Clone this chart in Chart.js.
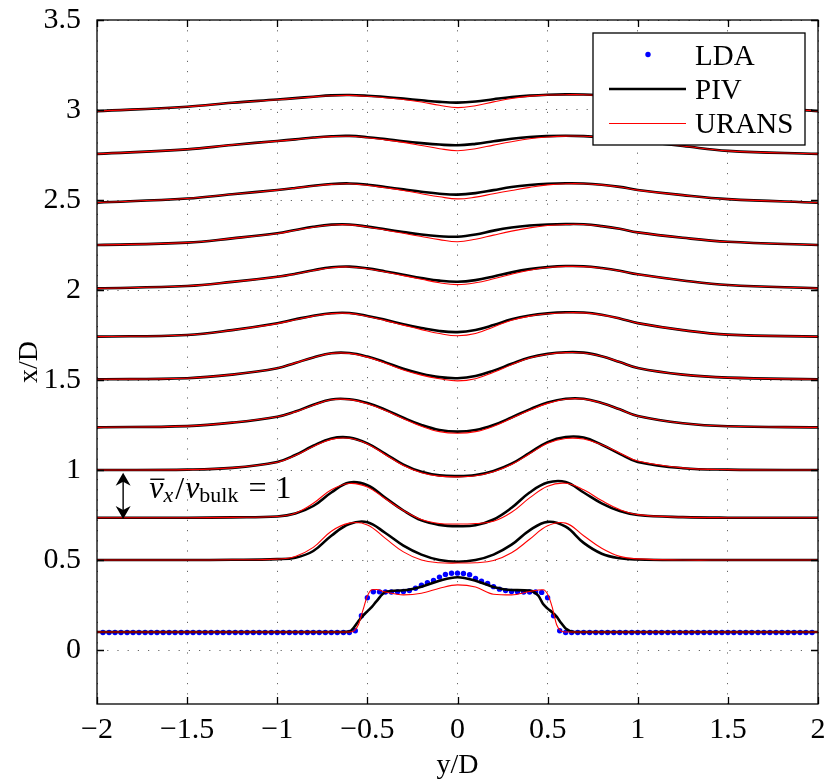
<!DOCTYPE html>
<html>
<head>
<meta charset="utf-8">
<script src="https://cdn.jsdelivr.net/npm/chart.js@4.4.1/dist/chart.umd.min.js"></script>
<style>
html, body { margin: 0; padding: 0; background: #fff; }
canvas { display: block; }
</style>
</head>
<body>
<canvas id="profiles" width="828" height="783"></canvas>
<script>
// axis ticks
const xTicks = [-2, -1.5, -1, -0.5, 0, 0.5, 1, 1.5, 2];
const yTicks = [0, 0.5, 1, 1.5, 2, 2.5, 3, 3.5];

// y/D positions shared by the profiles from x/D = 0.5 upward
const yGrid = [-2, -1.5, -1.25, -1, -0.9, -0.8, -0.7, -0.6, -0.5, -0.4, -0.3, -0.2, -0.1, 0,
               0.1, 0.2, 0.3, 0.4, 0.5, 0.6, 0.7, 0.8, 0.9, 1, 1.25, 1.5, 2];

// PIV profiles (plotted as x/D station + scaled velocity)
const piv050 = [0.5, 0.5, 0.501, 0.505, 0.513, 0.55, 0.635, 0.70, 0.71, 0.65, 0.58, 0.53, 0.50, 0.49, 0.50, 0.53, 0.585, 0.665, 0.712, 0.685, 0.595, 0.535, 0.51, 0.503, 0.5, 0.5, 0.5];
const piv075 = [0.735, 0.735, 0.737, 0.742, 0.758, 0.80, 0.875, 0.93, 0.915, 0.845, 0.775, 0.72, 0.695, 0.688, 0.693, 0.725, 0.79, 0.875, 0.93, 0.933, 0.875, 0.815, 0.772, 0.75, 0.738, 0.735, 0.735];
const piv100 = [1.0, 1.002, 1.012, 1.045, 1.083, 1.135, 1.175, 1.18, 1.148, 1.09, 1.03, 0.99, 0.97, 0.966, 0.972, 0.995, 1.035, 1.095, 1.155, 1.183, 1.18, 1.14, 1.09, 1.045, 1.01, 1.002, 1.0];
const piv125 = [1.237, 1.244, 1.263, 1.296, 1.325, 1.362, 1.392, 1.393, 1.372, 1.335, 1.29, 1.25, 1.222, 1.213, 1.222, 1.25, 1.292, 1.337, 1.375, 1.396, 1.396, 1.372, 1.337, 1.3, 1.26, 1.243, 1.237];
const piv150 = [1.504, 1.51, 1.53, 1.565, 1.595, 1.625, 1.649, 1.65, 1.63, 1.598, 1.563, 1.535, 1.516, 1.51, 1.522, 1.552, 1.59, 1.625, 1.645, 1.654, 1.652, 1.632, 1.6, 1.567, 1.53, 1.513, 1.504];
const piv175 = [1.741, 1.75, 1.777, 1.815, 1.837, 1.857, 1.871, 1.872, 1.856, 1.834, 1.81, 1.789, 1.772, 1.766, 1.778, 1.805, 1.837, 1.858, 1.87, 1.876, 1.875, 1.863, 1.842, 1.816, 1.777, 1.752, 1.741];
const piv200 = [2.009, 2.022, 2.045, 2.074, 2.09, 2.11, 2.126, 2.13, 2.12, 2.103, 2.085, 2.067, 2.052, 2.046, 2.055, 2.075, 2.098, 2.116, 2.127, 2.133, 2.132, 2.122, 2.107, 2.087, 2.053, 2.028, 2.009];
const piv225 = [2.25, 2.263, 2.287, 2.315, 2.333, 2.351, 2.363, 2.364, 2.352, 2.337, 2.322, 2.308, 2.299, 2.296, 2.308, 2.33, 2.347, 2.358, 2.364, 2.366, 2.365, 2.355, 2.34, 2.32, 2.29, 2.268, 2.25];
const piv250 = [2.485, 2.508, 2.532, 2.556, 2.567, 2.579, 2.589, 2.592, 2.585, 2.572, 2.559, 2.546, 2.535, 2.53, 2.538, 2.555, 2.572, 2.583, 2.59, 2.593, 2.592, 2.585, 2.573, 2.556, 2.527, 2.505, 2.485];
const piv275 = [2.756, 2.781, 2.806, 2.828, 2.837, 2.847, 2.854, 2.856, 2.849, 2.838, 2.826, 2.816, 2.808, 2.804, 2.812, 2.826, 2.84, 2.85, 2.855, 2.857, 2.855, 2.849, 2.84, 2.828, 2.8, 2.773, 2.756];
const piv300 = [2.994, 3.018, 3.04, 3.058, 3.066, 3.074, 3.081, 3.083, 3.079, 3.072, 3.063, 3.054, 3.045, 3.041, 3.047, 3.06, 3.072, 3.08, 3.085, 3.087, 3.086, 3.081, 3.074, 3.066, 3.045, 3.024, 2.994];

// URANS profiles
const urans050 = [0.5, 0.5, 0.501, 0.505, 0.52, 0.57, 0.66, 0.705, 0.695, 0.62, 0.545, 0.50, 0.485, 0.483, 0.485, 0.497, 0.54, 0.615, 0.69, 0.705, 0.635, 0.565, 0.52, 0.506, 0.5, 0.5, 0.5];
const urans075 = [0.735, 0.735, 0.737, 0.742, 0.76, 0.815, 0.89, 0.925, 0.905, 0.84, 0.775, 0.725, 0.703, 0.70, 0.703, 0.715, 0.765, 0.845, 0.91, 0.926, 0.89, 0.83, 0.78, 0.752, 0.738, 0.735, 0.735];
const urans100 = [1.0, 1.002, 1.012, 1.043, 1.08, 1.13, 1.17, 1.176, 1.145, 1.085, 1.025, 0.985, 0.966, 0.962, 0.968, 0.99, 1.03, 1.09, 1.148, 1.175, 1.172, 1.14, 1.095, 1.05, 1.012, 1.002, 1.0];
const urans125 = [1.237, 1.244, 1.263, 1.296, 1.323, 1.36, 1.39, 1.391, 1.368, 1.33, 1.285, 1.243, 1.213, 1.204, 1.213, 1.243, 1.287, 1.332, 1.37, 1.393, 1.394, 1.372, 1.337, 1.3, 1.26, 1.243, 1.237];
const urans150 = [1.504, 1.51, 1.53, 1.565, 1.595, 1.625, 1.648, 1.648, 1.627, 1.593, 1.556, 1.527, 1.507, 1.495, 1.507, 1.543, 1.585, 1.622, 1.643, 1.652, 1.65, 1.632, 1.6, 1.567, 1.53, 1.513, 1.504];
const urans175 = [1.741, 1.75, 1.777, 1.813, 1.835, 1.855, 1.869, 1.87, 1.853, 1.83, 1.805, 1.78, 1.758, 1.746, 1.758, 1.795, 1.832, 1.855, 1.868, 1.874, 1.873, 1.862, 1.842, 1.816, 1.777, 1.752, 1.741];
const urans200 = [2.009, 2.022, 2.045, 2.073, 2.089, 2.108, 2.124, 2.128, 2.118, 2.1, 2.08, 2.06, 2.04, 2.03, 2.04, 2.062, 2.088, 2.11, 2.125, 2.131, 2.13, 2.121, 2.106, 2.087, 2.053, 2.028, 2.009];
const urans225 = [2.25, 2.263, 2.287, 2.314, 2.332, 2.349, 2.361, 2.362, 2.35, 2.333, 2.315, 2.297, 2.28, 2.268, 2.282, 2.305, 2.327, 2.345, 2.358, 2.364, 2.364, 2.354, 2.34, 2.32, 2.29, 2.268, 2.25];
const urans250 = [2.485, 2.508, 2.532, 2.555, 2.566, 2.578, 2.587, 2.59, 2.582, 2.568, 2.553, 2.535, 2.518, 2.506, 2.516, 2.535, 2.553, 2.57, 2.584, 2.59, 2.59, 2.584, 2.572, 2.555, 2.527, 2.505, 2.485];
const urans275 = [2.756, 2.781, 2.806, 2.827, 2.836, 2.846, 2.852, 2.854, 2.846, 2.834, 2.82, 2.803, 2.785, 2.774, 2.785, 2.805, 2.824, 2.84, 2.85, 2.855, 2.854, 2.848, 2.84, 2.828, 2.8, 2.773, 2.756];
const urans300 = [2.994, 3.018, 3.04, 3.057, 3.065, 3.073, 3.079, 3.081, 3.076, 3.068, 3.058, 3.044, 3.026, 3.013, 3.024, 3.045, 3.064, 3.077, 3.083, 3.085, 3.085, 3.08, 3.073, 3.065, 3.045, 3.024, 2.994];

// station x/D = 0.1 (nozzle exit) has its own finer grid
const yExit = [-2, -0.65, -0.6, -0.575, -0.55, -0.525, -0.5, -0.475, -0.45, -0.4, -0.3, -0.2, -0.1, 0,
               0.1, 0.2, 0.3, 0.4, 0.45, 0.475, 0.5, 0.525, 0.55, 0.575, 0.6, 0.65, 2];
const pivExit = [0.1, 0.1, 0.102, 0.125, 0.16, 0.19, 0.215, 0.24, 0.27, 0.322, 0.332, 0.352, 0.385, 0.404,
                 0.385, 0.35, 0.333, 0.33, 0.3, 0.255, 0.23, 0.21, 0.185, 0.15, 0.12, 0.1, 0.1];
const uransExit = [0.1, 0.1, 0.1, 0.105, 0.14, 0.22, 0.3, 0.335, 0.336, 0.322, 0.306, 0.315, 0.343, 0.362,
                   0.35, 0.31, 0.306, 0.325, 0.333, 0.335, 0.31, 0.24, 0.14, 0.105, 0.1, 0.1, 0.1];

// LDA points at the exit station
const ldaY = [
  -1.967, -1.933, -1.9, -1.867, -1.833, -1.8, -1.767, -1.733, -1.7, -1.667,
  -1.633, -1.6, -1.567, -1.533, -1.5, -1.467, -1.433, -1.4, -1.367, -1.333,
  -1.3, -1.267, -1.233, -1.2, -1.167, -1.133, -1.1, -1.067, -1.033, -1,
  -0.967, -0.933, -0.9, -0.867, -0.833, -0.8, -0.767, -0.733, -0.7, -0.667,
  -0.633, -0.6, -0.567, -0.533, -0.5, -0.467, -0.433, -0.4, -0.367, -0.333,
  -0.3, -0.267, -0.233, -0.2, -0.167, -0.133, -0.1, -0.067, -0.033, 0,
  0.033, 0.067, 0.1, 0.133, 0.167, 0.2, 0.233, 0.267, 0.3,
  0.333, 0.367, 0.4, 0.433, 0.467, 0.5, 0.533, 0.567, 0.6, 0.633,
  0.667, 0.7, 0.733, 0.767, 0.8, 0.833, 0.867, 0.9, 0.933, 0.967,
  1, 1.033, 1.067, 1.1, 1.133, 1.167, 1.2, 1.233, 1.267, 1.3,
  1.333, 1.367, 1.4, 1.433, 1.467, 1.5, 1.533, 1.567, 1.6, 1.633,
  1.667, 1.7, 1.733, 1.767, 1.8, 1.833, 1.867, 1.9, 1.933, 1.967
];
const ldaV = [
  0.097, 0.097, 0.097, 0.097, 0.097, 0.097, 0.097, 0.097, 0.097, 0.097,
  0.097, 0.097, 0.097, 0.097, 0.097, 0.097, 0.097, 0.097, 0.097, 0.097,
  0.097, 0.097, 0.097, 0.097, 0.097, 0.097, 0.097, 0.097, 0.097, 0.097,
  0.097, 0.097, 0.097, 0.097, 0.097, 0.097, 0.097, 0.097, 0.097, 0.097,
  0.097, 0.097, 0.107, 0.19, 0.29, 0.324, 0.323, 0.322, 0.322, 0.323,
  0.325, 0.33, 0.343, 0.36, 0.374, 0.386, 0.405, 0.42, 0.426, 0.427,
  0.425, 0.418, 0.398, 0.382, 0.37, 0.352, 0.338, 0.33, 0.325,
  0.323, 0.322, 0.322, 0.322, 0.32, 0.29, 0.19, 0.107, 0.097, 0.097,
  0.097, 0.097, 0.097, 0.097, 0.097, 0.097, 0.097, 0.097, 0.097, 0.097,
  0.097, 0.097, 0.097, 0.097, 0.097, 0.097, 0.097, 0.097, 0.097, 0.097,
  0.097, 0.097, 0.097, 0.097, 0.097, 0.097, 0.097, 0.097, 0.097, 0.097,
  0.097, 0.097, 0.097, 0.097, 0.097, 0.097, 0.097, 0.097, 0.097, 0.097
];

const pivSeries = [piv050, piv075, piv100, piv125, piv150, piv175, piv200, piv225, piv250, piv275, piv300];
const uransSeries = [urans050, urans075, urans100, urans125, urans150, urans175, urans200, urans225, urans250, urans275, urans300];

const SERIF = "'Liberation Serif', 'Times New Roman', serif";
Chart.defaults.font.family = SERIF;
Chart.defaults.color = '#000';

const toPoints = (xs, vs) => xs.map((x, i) => ({ x: x, y: vs[i] }));
const minus = v => String(v).replace('-', '\u2212');

function lineSet(points, color, width, order, sharp) {
    return {
        data: points,
        showLine: true,
        borderColor: color,
        borderWidth: width,
        pointRadius: 0,
        pointHoverRadius: 0,
        tension: 0.4,
        cubicInterpolationMode: sharp ? 'monotone' : 'default',
        order: order
    };
}

const datasets = [];
datasets.push({
    label: 'LDA',
    data: toPoints(ldaY, ldaV),
    showLine: false,
    pointRadius: 2.7,
    pointBorderWidth: 0,
    pointBackgroundColor: '#0000ff',
    order: 3
});
datasets.push(lineSet(toPoints(yExit, pivExit), '#000', 2.6, 2, true));
pivSeries.forEach(s => datasets.push(lineSet(toPoints(yGrid, s), '#000', 2.6, 2, false)));
datasets.push(lineSet(toPoints(yExit, uransExit), '#ff0000', 1.1, 1, true));
uransSeries.forEach(s => datasets.push(lineSet(toPoints(yGrid, s), '#ff0000', 1.1, 1, false)));

// --- frame, inward ticks, annotation, titles, legend ---
const decorations = {
    id: 'decorations',
    beforeDraw(chart) {
        const ctx = chart.ctx;
        ctx.save();
        ctx.fillStyle = '#fff';
        ctx.fillRect(0, 0, chart.width, chart.height);
        ctx.restore();
    },
    afterDatasetsDraw(chart) {
        const { ctx, chartArea: a, scales: { x, y } } = chart;
        ctx.save();

        // axes box + ticks pointing inward
        ctx.strokeStyle = '#000';
        ctx.lineWidth = 1.3;
        ctx.strokeRect(a.left, a.top, a.right - a.left, a.bottom - a.top);
        ctx.beginPath();
        xTicks.forEach(v => {
            const px = Math.round(x.getPixelForValue(v)) + 0.5;
            ctx.moveTo(px, a.bottom); ctx.lineTo(px, a.bottom - 7);
            ctx.moveTo(px, a.top); ctx.lineTo(px, a.top + 7);
        });
        yTicks.forEach(v => {
            const py = Math.round(y.getPixelForValue(v)) + 0.5;
            ctx.moveTo(a.left, py); ctx.lineTo(a.left + 7, py);
            ctx.moveTo(a.right, py); ctx.lineTo(a.right - 7, py);
        });
        ctx.stroke();

        // double arrow showing v/vbulk = 1
        const ax = x.getPixelForValue(-1.855);
        const aTop = y.getPixelForValue(0.985);
        const aBot = y.getPixelForValue(0.728);
        ctx.fillStyle = '#000';
        ctx.lineWidth = 1.4;
        ctx.beginPath();
        ctx.moveTo(ax, aTop + 6); ctx.lineTo(ax, aBot - 6);
        ctx.stroke();
        ctx.beginPath();
        ctx.moveTo(ax, aTop); ctx.lineTo(ax - 7.5, aTop + 13); ctx.lineTo(ax, aTop + 9); ctx.lineTo(ax + 7.5, aTop + 13);
        ctx.closePath(); ctx.fill();
        ctx.beginPath();
        ctx.moveTo(ax, aBot); ctx.lineTo(ax - 7.5, aBot - 13); ctx.lineTo(ax, aBot - 9); ctx.lineTo(ax + 7.5, aBot - 13);
        ctx.closePath(); ctx.fill();

        // math label
        let tx = x.getPixelForValue(-1.71);
        const base = y.getPixelForValue(0.843);
        ctx.textBaseline = 'alphabetic';
        ctx.textAlign = 'left';
        ctx.font = 'italic 32px ' + SERIF;
        const vw = ctx.measureText('v').width;
        ctx.fillText('v', tx, base);
        ctx.lineWidth = 1.4;
        ctx.beginPath();
        ctx.moveTo(tx + 1, base - 19); ctx.lineTo(tx + vw + 1, base - 19);
        ctx.stroke();
        tx += vw;
        ctx.font = 'italic 22px ' + SERIF;
        ctx.fillText('x', tx, base + 4);
        tx += ctx.measureText('x').width + 2;
        ctx.font = '32px ' + SERIF;
        ctx.fillText('/', tx, base + 1);
        tx += ctx.measureText('/').width + 1;
        ctx.font = 'italic 32px ' + SERIF;
        ctx.fillText('v', tx, base);
        tx += vw;
        ctx.font = '22px ' + SERIF;
        ctx.fillText('bulk', tx, base + 4);
        tx += ctx.measureText('bulk').width + 10;
        ctx.font = '32px ' + SERIF;
        ctx.fillText('=', tx, base);
        tx += ctx.measureText('=').width + 9;
        ctx.fillText('1', tx, base);

        // legend box inside the axes
        const lw = 212, lh = 112;
        const lx = a.right - 13 - lw, ly = a.top + 13;
        ctx.fillStyle = '#fff';
        ctx.fillRect(lx, ly, lw, lh);
        ctx.strokeStyle = '#000';
        ctx.lineWidth = 1.3;
        ctx.strokeRect(lx, ly, lw, lh);

        ctx.fillStyle = '#0000ff';
        ctx.beginPath();
        ctx.arc(lx + 55, ly + 21.5, 2.7, 0, Math.PI * 2);
        ctx.fill();
        ctx.strokeStyle = '#000';
        ctx.lineWidth = 2.6;
        ctx.beginPath(); ctx.moveTo(lx + 16, ly + 56); ctx.lineTo(lx + 93, ly + 56); ctx.stroke();
        ctx.strokeStyle = '#ff0000';
        ctx.lineWidth = 1.1;
        ctx.beginPath(); ctx.moveTo(lx + 16, ly + 90.5); ctx.lineTo(lx + 93, ly + 90.5); ctx.stroke();

        ctx.fillStyle = '#000';
        ctx.font = '29px ' + SERIF;
        ctx.fillText('LDA', lx + 102, ly + 32);
        ctx.fillText('PIV', lx + 102, ly + 66);
        ctx.fillText('URANS', lx + 102, ly + 100);

        // axis titles
        ctx.font = '28px ' + SERIF;
        ctx.textAlign = 'center';
        ctx.textBaseline = 'middle';
        ctx.fillText('y/D', (a.left + a.right) / 2, 766);
        ctx.translate(30, (a.top + a.bottom) / 2);
        ctx.rotate(-Math.PI / 2);
        ctx.fillText('x/D', 0, 0);

        ctx.restore();
    }
};

new Chart(document.getElementById('profiles'), {
    type: 'scatter',
    data: { datasets: datasets },
    options: {
        responsive: false,
        devicePixelRatio: 1,
        animation: false,
        events: [],
        layout: { padding: { top: 20, right: 10, left: 0, bottom: 0 } },
        plugins: {
            legend: { display: false },
            tooltip: { enabled: false }
        },
        scales: {
            x: {
                type: 'linear',
                min: -2,
                max: 2,
                afterBuildTicks: s => { s.ticks = xTicks.map(v => ({ value: v })); },
                afterFit: s => { s.height = 79; s.paddingLeft = 0; s.paddingRight = 0; },
                ticks: { font: { size: 30 }, padding: 8, maxRotation: 0, callback: minus },
                grid: { color: 'rgba(0,0,0,0.6)', lineWidth: 1, drawTicks: false },
                border: { display: false, dash: [1.2, 9] }
            },
            y: {
                type: 'linear',
                min: -0.3,
                max: 3.5,
                afterBuildTicks: s => { s.ticks = yTicks.map(v => ({ value: v })); },
                afterFit: s => { s.width = 97; s.paddingTop = 0; s.paddingBottom = 0; },
                ticks: { font: { size: 30 }, padding: 16, callback: minus },
                grid: { color: 'rgba(0,0,0,0.6)', lineWidth: 1, drawTicks: false },
                border: { display: false, dash: [1.2, 9] }
            }
        }
    },
    plugins: [decorations]
});
</script>
</body>
</html>
